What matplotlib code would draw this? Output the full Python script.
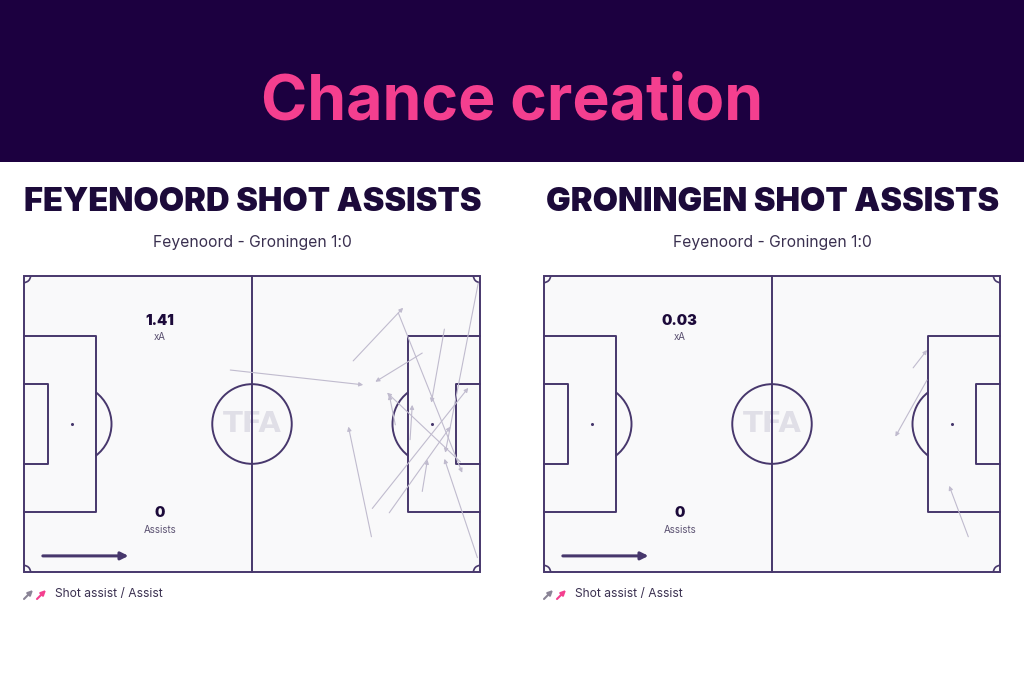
import matplotlib.pyplot as plt
from matplotlib.patches import Rectangle, Arc, Circle, FancyArrowPatch

W, H = 1024, 683

# --- data (pitch metres, 105 x 68, y from bottom) -------------------------
teams = ["FEYENOORD", "GRONINGEN"]
match_label = "Feyenoord - Groningen 1:0"
xa_values = ["1.41", "0.03"]
assist_counts = ["0", "0"]

fey_x0 = [75.8, 86.2, 91.7, 47.5, 96.8, 104.6, 100.5, 85.5, 80.2, 84.1, 91.7, 80.0, 104.4, 88.9]
fey_y0 = [48.5, 59.5, 50.3, 46.4, 55.8, 66.4, 25.3, 33.8, 14.6, 13.6, 18.5, 8.1, 3.3, 30.4]
fey_x1 = [87.3, 100.9, 80.9, 78.1, 93.8, 97.0, 83.6, 84.1, 102.3, 98.2, 92.9, 74.7, 96.8, 89.4]
fey_y1 = [60.7, 22.8, 43.7, 43.0, 38.9, 27.4, 41.2, 40.7, 42.3, 33.4, 25.8, 33.4, 26.0, 38.4]

gro_x0 = [85.0, 88.2, 97.7]
gro_y0 = [46.9, 44.1, 8.1]
gro_x1 = [88.2, 80.9, 93.3]
gro_y1 = [51.0, 31.1, 19.8]

HEADER = "#1c0040"
PINK = "#f43f8f"
NAVY = "#1c0a3a"
LINE = "#47376c"
ARROW = "#c0bbce"
PITCH_BG = "#f9f9fa"


def fx(px):
    return px / W


def fy(py):
    return 1 - py / H


def draw_pitch(ax):
    kw = dict(color=LINE, lw=1.4, zorder=2, clip_on=False)
    ax.add_patch(Rectangle((0, 0), 105, 68, facecolor=PITCH_BG, edgecolor=LINE,
                           lw=1.4, zorder=1, clip_on=False))
    ax.plot([52.5, 52.5], [0, 68], **kw)
    ax.add_patch(Circle((52.5, 34), 9.15, fill=False, ec=LINE, lw=1.4, zorder=2))
    for side in (0, 1):
        x_edge = 0 if side == 0 else 105
        d = 1 if side == 0 else -1
        # penalty area
        ax.plot([x_edge, x_edge + d * 16.5, x_edge + d * 16.5, x_edge],
                [13.84, 13.84, 54.16, 54.16], **kw)
        # six-yard box
        ax.plot([x_edge, x_edge + d * 5.5, x_edge + d * 5.5, x_edge],
                [24.84, 24.84, 43.16, 43.16], **kw)
        # spot
        ax.plot(x_edge + d * 11, 34, marker="o", ms=1.2, color=LINE, zorder=2)
        # D
        cx = x_edge + d * 11
        if side == 0:
            ax.add_patch(Arc((cx, 34), 18.3, 18.3, theta1=-53, theta2=53,
                             ec=LINE, lw=1.4, zorder=2))
        else:
            ax.add_patch(Arc((cx, 34), 18.3, 18.3, theta1=127, theta2=233,
                             ec=LINE, lw=1.4, zorder=2))
    # corner arcs
    for (cx, cy, t1, t2) in [(0, 0, 0, 90), (0, 68, 270, 360),
                             (105, 0, 90, 180), (105, 68, 180, 270)]:
        ax.add_patch(Arc((cx, cy), 3.0, 3.0, theta1=t1, theta2=t2,
                         ec=LINE, lw=1.2, zorder=2))
    # watermark
    ax.text(52.5, 34, "TFA", ha="center", va="center", fontsize=21,
            fontweight="bold", color="#e0dfe7", family="DejaVu Sans", zorder=1.5)
    # direction arrow
    ax.add_patch(FancyArrowPatch((3.7, 3.7), (24.7, 3.7), arrowstyle="-|>",
                                 mutation_scale=11, color=LINE, lw=2.2, zorder=3))
    ax.set_xlim(0, 105)
    ax.set_ylim(0, 68)
    ax.axis("off")


fig = plt.figure(figsize=(W / 100, H / 100), dpi=100)
fig.patch.set_facecolor("white")
fig.patches.append(Rectangle((0, fy(162)), 1, 162 / H, transform=fig.transFigure,
                             facecolor=HEADER, edgecolor="none", zorder=0))
fig.text(0.5, fy(103), "Chance creation", ha="center", va="center", color=PINK,
         fontsize=45, fontweight="bold", family="Inter")

panels = [
    (24, fey_x0, fey_y0, fey_x1, fey_y1),
    (544, gro_x0, gro_y0, gro_x1, gro_y1),
]

for i, (left, x0, y0, x1, y1) in enumerate(panels):
    cx = left + 228
    fig.text(fx(cx + 1), fy(202), f"{teams[i]} SHOT ASSISTS", ha="center", va="center",
             color=NAVY, fontsize=23.5, fontweight="black", family="Inter")
    fig.text(fx(cx), fy(242), match_label, ha="center", va="center",
             color="#3a3050", fontsize=11.3, family="Inter")

    ax = fig.add_axes([fx(left), fy(572), 456 / W, 296 / H])
    draw_pitch(ax)
    for a, b, c, d in zip(x0, y0, x1, y1):
        ax.add_patch(FancyArrowPatch((a, b), (c, d), arrowstyle="-|>", mutation_scale=6,
                                     color=ARROW, lw=0.8, zorder=4,
                                     shrinkA=0, shrinkB=0))

    ax.text(31.3, 57.7, xa_values[i], ha="center", va="center", fontsize=10.5,
            fontweight="black", color=NAVY, family="Inter")
    ax.text(31.3, 54.0, "xA", ha="center", va="center", fontsize=7,
            color="#5a5070", family="Inter")
    ax.text(31.3, 13.5, assist_counts[i], ha="center", va="center", fontsize=10.5,
            fontweight="black", color=NAVY, family="Inter")
    ax.text(31.3, 9.7, "Assists", ha="center", va="center", fontsize=7,
            color="#5a5070", family="Inter")

    # legend
    lax = fig.add_axes([fx(left - 1), fy(601), 26 / W, 14 / H])
    lax.set_xlim(0, 26)
    lax.set_ylim(0, 14)
    lax.axis("off")
    lax.add_patch(FancyArrowPatch((1, 2), (10, 11), arrowstyle="-|>", mutation_scale=7,
                                  color="#8a8496", lw=1.5, shrinkA=0, shrinkB=0))
    lax.add_patch(FancyArrowPatch((14, 2), (23, 11), arrowstyle="-|>", mutation_scale=7,
                                  color=PINK, lw=1.5, shrinkA=0, shrinkB=0))
    fig.text(fx(left + 31), fy(594), "Shot assist / Assist", ha="left", va="center",
             fontsize=8.7, color="#3a3050", family="Inter")

fig.savefig("out.png", dpi=100, facecolor=fig.get_facecolor())
